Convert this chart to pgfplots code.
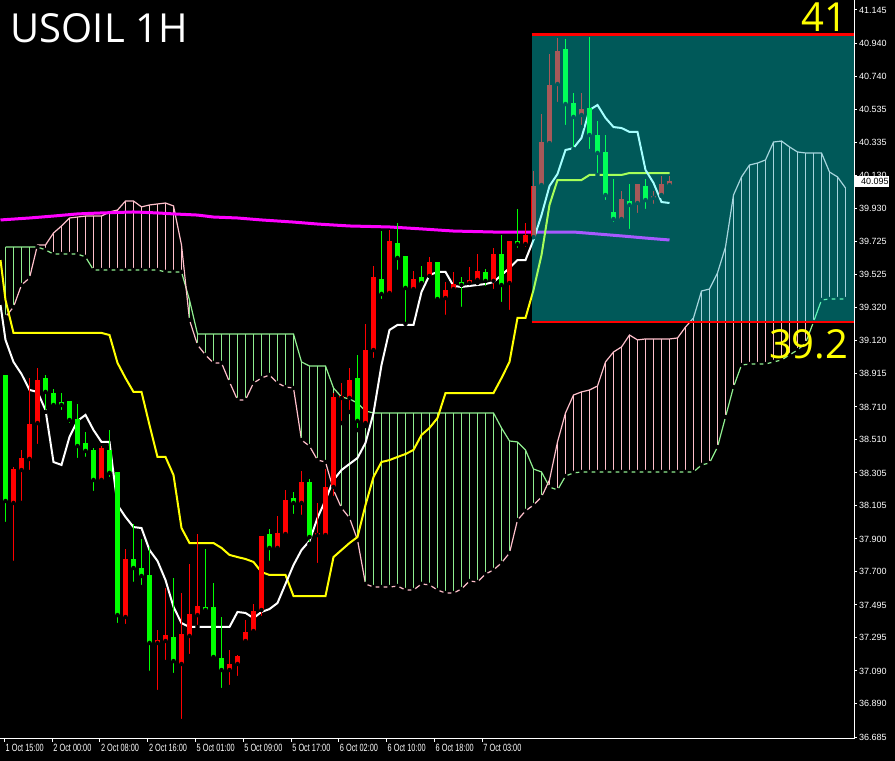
\documentclass[border=0pt]{standalone}
\usepackage{fontspec}
\setmainfont{Liberation Sans}
\newfontfamily\titlefont{Open Sans}
\newfontfamily\datefont[FakeStretch=0.7]{Liberation Sans}
\usepackage{pgfplots}
\usepackage{pgfplotstable}
\pgfplotsset{compat=1.18}

\definecolor{cpink}{RGB}{255,192,203}
\definecolor{cgreen}{RGB}{144,238,144}
\definecolor{bull}{RGB}{255,0,0}
\definecolor{bear}{RGB}{0,255,0}
\definecolor{kyellow}{RGB}{255,255,0}
\definecolor{mag}{RGB}{255,0,255}
\definecolor{boxcyan}{RGB}{0,255,255}

% hourly candles: x = bar index, open high low close
\pgfplotstableread{
x o h l c
0 38.906 38.906 37.992 38.133
1 38.121 38.341 37.753 38.329
2 38.323 38.446 38.121 38.397
3 38.391 38.887 38.311 38.605
4 38.611 38.949 38.470 38.875
5 38.887 38.906 38.679 38.802
6 38.795 38.820 38.703 38.722
7 38.740 38.795 38.679 38.722
8 38.746 38.746 38.599 38.630
9 38.636 38.728 38.384 38.470
10 38.489 38.556 38.391 38.440
11 38.446 38.458 38.182 38.262
12 38.262 38.470 38.262 38.458
13 38.446 38.568 38.268 38.305
14 38.311 38.311 37.372 37.433
15 37.421 37.838 37.366 37.777
16 37.777 37.992 37.624 37.722
17 37.722 37.900 37.605 37.673
18 37.679 37.851 37.078 37.262
19 37.262 37.341 36.961 37.280
20 37.274 37.599 37.145 37.311
21 37.298 37.660 37.065 37.151
22 37.133 37.568 36.783 37.317
23 37.305 37.746 37.182 37.440
24 37.433 37.930 37.360 37.489
25 37.483 37.838 37.452 37.464
26 37.483 37.630 37.157 37.176
27 37.170 37.421 36.973 37.096
28 37.096 37.219 36.992 37.133
29 37.133 37.188 37.047 37.182
30 37.274 37.403 37.262 37.329
31 37.335 37.501 37.311 37.458
32 37.464 37.918 37.415 37.918
33 37.930 37.961 37.753 37.845
34 37.845 38.041 37.832 37.937
35 37.930 38.200 37.930 38.139
36 38.151 38.188 38.041 38.121
37 38.121 38.317 38.035 38.249
38 38.249 38.268 37.869 37.912
39 37.924 38.121 37.740 37.937
40 37.924 38.329 37.924 38.219
41 38.219 38.795 38.151 38.771
42 38.765 38.857 38.611 38.777
43 38.765 38.949 38.679 38.875
44 38.887 39.029 38.568 38.624
45 38.611 39.219 38.593 39.059
46 39.059 39.575 38.998 39.507
47 39.495 39.789 39.360 39.403
48 39.409 39.795 39.403 39.728
49 39.716 39.838 39.538 39.624
50 39.636 39.636 39.219 39.440
51 39.433 39.544 39.433 39.495
52 39.507 39.575 39.470 39.470
53 39.513 39.630 39.513 39.599
54 39.599 39.599 39.360 39.372
55 39.378 39.476 39.262 39.427
56 39.433 39.538 39.433 39.464
57 39.476 39.507 39.311 39.458
58 39.470 39.568 39.470 39.489
59 39.489 39.648 39.470 39.544
60 39.538 39.556 39.440 39.483
61 39.483 39.685 39.421 39.648
62 39.648 39.765 39.341 39.458
63 39.470 39.728 39.292 39.728
64 39.728 39.924 39.673 39.709
65 39.709 39.838 39.679 39.765
66 39.752 40.157 39.752 40.065
67 40.071 40.507 40.071 40.335
68 40.329 40.875 40.329 40.685
69 40.691 40.973 40.568 40.894
70 40.906 40.967 40.427 40.568
71 40.575 40.636 40.292 40.489
72 40.501 40.636 40.427 40.538
73 40.544 40.979 40.280 40.378
74 40.378 40.464 40.133 40.268
75 40.274 40.378 39.967 40.010
76 39.906 40.108 39.832 39.863
77 39.863 40.035 39.838 39.986
78 39.973 40.078 39.789 39.949
79 39.961 40.078 39.887 40.078
80 40.065 40.108 39.912 39.979
81 39.992 40.035 39.943 40.004
82 40.010 40.127 40.004 40.078
83 40.071 40.127 40.047 40.096
}\candles

% Tenkan-sen (white)
\pgfplotstableread{
x y
-0.625 39.335
0 39.121
1 38.986
2 38.912
3 38.814
4 38.802
5 38.691
6 38.372
7 38.354
8 38.526
9 38.624
10 38.661
11 38.568
12 38.495
13 38.495
14 38.108
15 38.035
16 37.973
17 37.967
18 37.832
19 37.765
20 37.648
21 37.483
22 37.384
23 37.360
24 37.360
25 37.360
26 37.360
27 37.360
28 37.360
29 37.452
30 37.446
31 37.415
32 37.452
33 37.470
34 37.507
35 37.624
36 37.740
37 37.832
38 37.888
39 38.029
40 38.139
41 38.262
42 38.323
43 38.360
44 38.397
45 38.489
46 38.673
47 38.967
48 39.182
49 39.213
50 39.213
51 39.213
52 39.415
53 39.519
54 39.538
55 39.538
56 39.452
57 39.446
58 39.452
59 39.458
60 39.464
61 39.476
62 39.519
63 39.562
64 39.611
65 39.611
66 39.734
67 39.887
68 40.065
69 40.139
70 40.286
71 40.298
72 40.360
73 40.532
74 40.562
75 40.483
76 40.427
77 40.421
78 40.397
79 40.397
80 40.164
81 40.084
82 39.967
83 39.961
}\tenkan

% Kijun-sen (yellow)
\pgfplotstableread{
x y
-0.625 39.611
0 39.366
1 39.164
12 39.164
13 39.151
14 38.980
15 38.887
16 38.802
17 38.802
18 38.599
19 38.403
20 38.403
21 38.292
22 37.967
23 37.875
26 37.875
27 37.845
28 37.802
29 37.789
30 37.777
31 37.759
32 37.697
33 37.679
35 37.679
36 37.550
40 37.550
41 37.789
42 37.832
43 37.875
44 37.912
45 38.108
46 38.280
47 38.372
48 38.384
49 38.403
50 38.421
51 38.446
52 38.538
53 38.581
54 38.642
55 38.795
61 38.795
62 38.887
63 38.986
64 39.256
65 39.256
66 39.427
67 39.642
68 39.949
69 40.102
72 40.102
73 40.133
77 40.133
78 40.145
83 40.145
}\kijun

% moving average (magenta)
\pgfplotstableread{
x y
-0.625 39.857
3 39.869
6 39.881
9 39.894
12 39.900
16 39.906
19 39.900
21 39.894
24 39.887
26 39.875
29 39.869
32 39.857
36 39.844
39 39.832
43 39.820
48 39.814
52 39.802
56 39.789
61 39.783
66 39.783
71 39.783
74 39.771
77 39.759
80 39.746
83 39.734
}\ma

% cloud: a = Senkou span A (pink), b = Senkou span B (light green)
\pgfplotstableread{
x a b
0 39.262 39.691
1 39.323 39.691
2 39.458 39.691
3 39.501 39.691
4 39.703 39.691
5 39.703 39.673
6 39.777 39.648
7 39.820 39.648
8 39.869 39.648
9 39.875 39.648
10 39.881 39.630
11 39.881 39.550
12 39.881 39.550
13 39.906 39.550
14 39.918 39.550
15 39.973 39.550
16 39.973 39.550
17 39.937 39.550
18 39.949 39.550
19 39.955 39.550
20 39.961 39.538
21 39.943 39.538
22 39.703 39.538
23 39.243 39.366
24 39.090 39.157
25 39.029 39.157
26 38.980 39.157
27 38.980 39.157
28 38.863 39.157
29 38.753 39.157
30 38.753 39.157
31 38.857 39.157
32 38.887 39.157
33 38.906 39.157
34 38.857 39.157
35 38.832 39.157
36 38.826 39.157
37 38.507 38.986
38 38.470 38.961
39 38.384 38.961
40 38.372 38.961
41 38.200 38.826
42 38.090 38.771
43 38.029 38.759
44 37.894 38.734
45 37.624 38.685
46 37.605 38.673
47 37.605 38.673
48 37.605 38.673
49 37.611 38.673
50 37.587 38.673
51 37.587 38.673
52 37.624 38.673
53 37.618 38.673
54 37.587 38.673
55 37.568 38.673
56 37.568 38.673
57 37.593 38.673
58 37.642 38.673
59 37.636 38.673
60 37.685 38.673
61 37.710 38.673
62 37.753 38.581
63 37.814 38.501
64 38.016 38.495
65 38.072 38.446
66 38.108 38.329
67 38.157 38.311
68 38.262 38.219
69 38.495 38.200
70 38.673 38.286
71 38.783 38.305
72 38.802 38.311
73 38.814 38.311
74 38.838 38.311
75 38.986 38.311
76 39.047 38.311
77 39.078 38.311
78 39.151 38.311
79 39.121 38.311
80 39.127 38.311
81 39.127 38.311
82 39.127 38.311
83 39.127 38.311
84 39.133 38.311
85 39.200 38.311
86 39.256 38.311
87 39.421 38.354
88 39.433 38.366
89 39.532 38.464
90 39.691 38.648
91 40.010 38.832
92 40.121 38.967
93 40.194 38.973
94 40.206 38.973
95 40.225 38.973
96 40.335 38.986
97 40.341 38.998
98 40.305 39.029
99 40.274 39.059
100 40.268 39.102
101 40.268 39.231
102 40.268 39.366
103 40.151 39.372
104 40.121 39.372
105 40.053 39.372
}\cloud

\begin{document}
\begin{tikzpicture}
\fill[black, use as bounding box] (0,0) rectangle (895bp,761bp);
\begin{axis}[
  at={(0,22bp)}, anchor=south west,
  scale only axis, width=854bp, height=739bp,
  xmin=-0.6875, xmax=106.0625, ymin=36.6728, ymax=41.2064,
  enlargelimits=false,
  axis x line*=bottom, axis y line*=right,
  axis line style={white, line width=1bp, -},
  clip mode=individual,
  tick align=outside, major tick length=3bp,
  tick style={white, line width=1bp},
  minor tick num=0,
  ytick={41.145,40.940,40.740,40.535,40.335,40.130,39.930,39.725,39.525,39.320,39.120,38.915,38.710,38.510,38.305,38.105,37.900,37.700,37.495,37.295,37.090,36.890,36.685},
  yticklabels={41.145,40.940,40.740,40.535,40.335,40.130,39.930,39.725,39.525,39.320,39.120,38.915,38.710,38.510,38.305,38.105,37.900,37.700,37.495,37.295,37.090,36.890,36.685},
  yticklabel style={font=\fontsize{9bp}{10bp}\selectfont, text=white, anchor=west, inner sep=0pt, xshift=2bp},
  xtick={-0.125,5.84,11.79,17.79,23.75,29.71,35.71,41.66,47.625,53.625,59.59},
  xticklabels={1 Oct 15:00,2 Oct 00:00,2 Oct 08:00,2 Oct 16:00,5 Oct 01:00,5 Oct 09:00,5 Oct 17:00,6 Oct 02:00,6 Oct 10:00,6 Oct 18:00,7 Oct 03:00},
  xticklabel style={font=\datefont\fontsize{10.5bp}{11bp}\selectfont, text=white, anchor=north west, inner sep=0pt, xshift=1bp, yshift=-2bp},
]

% Ichimoku cloud: boundaries
\addplot[cgreen, line width=1.2bp] table[x=x, y=b] {\cloud};
\addplot[cpink, line width=1.2bp] table[x=x, y=a] {\cloud};
% cloud hatching, coloured by the upper span (one segment from the lower span up)
\addplot[only marks, mark=none, error bars/.cd, y dir=plus, y explicit, error mark=none,
  error bar style={cpink, line width=1bp}]
  table[x=x, y expr={\thisrow{a}>\thisrow{b} ? \thisrow{b} : nan},
        y error expr={abs(\thisrow{a}-\thisrow{b})}] {\cloud};
\addplot[only marks, mark=none, error bars/.cd, y dir=plus, y explicit, error mark=none,
  error bar style={cgreen, line width=1bp}]
  table[x=x, y expr={\thisrow{a}>\thisrow{b} ? nan : \thisrow{a}},
        y error expr={abs(\thisrow{a}-\thisrow{b})}] {\cloud};

% moving average, kijun, tenkan
\addplot[mag, line width=3bp] table[x=x, y=y] {\ma};
\addplot[kyellow, line width=2bp] table[x=x, y=y] {\kijun};
\addplot[white, line width=2bp] table[x=x, y=y] {\tenkan};

% candles: wicks (from low up to high)
\addplot[only marks, mark=none, error bars/.cd, y dir=plus, y explicit, error mark=none,
  error bar style={bull, line width=1bp}]
  table[x=x, y expr={\thisrow{c}>\thisrow{o} ? \thisrow{l} : nan},
        y error expr={\thisrow{h}-\thisrow{l}}] {\candles};
\addplot[only marks, mark=none, error bars/.cd, y dir=plus, y explicit, error mark=none,
  error bar style={bear, line width=1bp}]
  table[x=x, y expr={\thisrow{c}>\thisrow{o} ? nan : \thisrow{l}},
        y error expr={\thisrow{h}-\thisrow{l}}] {\candles};
% candles: bodies (from lower of open/close up)
\addplot[only marks, mark=none, error bars/.cd, y dir=plus, y explicit, error mark=none,
  error bar style={bull, line width=5bp}]
  table[x=x, y expr={\thisrow{c}>\thisrow{o} ? \thisrow{o} : nan},
        y error expr={max(abs(\thisrow{c}-\thisrow{o}),0.0062)}] {\candles};
\addplot[only marks, mark=none, error bars/.cd, y dir=plus, y explicit, error mark=none,
  error bar style={bear, line width=5bp}]
  table[x=x, y expr={\thisrow{c}>\thisrow{o} ? nan : \thisrow{c}},
        y error expr={max(abs(\thisrow{c}-\thisrow{o}),0.0062)}] {\candles};

% highlighted range box (semi-transparent cyan)
\addplot[draw=none, fill=boxcyan, fill opacity=0.35] coordinates
  {(65.75,39.231) (106.0625,39.231) (106.0625,40.995) (65.75,40.995)} -- cycle;
\addplot[bull, line width=2.5bp] coordinates {(65.75,40.995) (106.0625,40.995)};
\addplot[bull, line width=2.5bp] coordinates {(65.75,39.231) (106.0625,39.231)};

% texts
\node[anchor=base west, inner sep=0pt, text=white, font=\titlefont\fontsize{40bp}{40bp}\selectfont]
  at (axis cs:0.625,40.9426) {USOIL 1H};
\node[anchor=base east, inner sep=0pt, text=kyellow, font=\titlefont\fontsize{40bp}{40bp}\selectfont]
  at (axis cs:105.25,41.0101) {41};
\node[anchor=base east, inner sep=0pt, text=kyellow, font=\titlefont\fontsize{40bp}{40bp}\selectfont]
  at (axis cs:105.375,39.0101) {39.2};
% current price tag
\node[anchor=west, inner sep=0pt, fill=white, text=black, minimum height=11bp,
  font=\fontsize{9bp}{10bp}\selectfont]
  at (axis cs:106.0625,40.095) {\hspace{7bp}40.095\hspace{4bp}};
\end{axis}
\end{tikzpicture}
\end{document}
